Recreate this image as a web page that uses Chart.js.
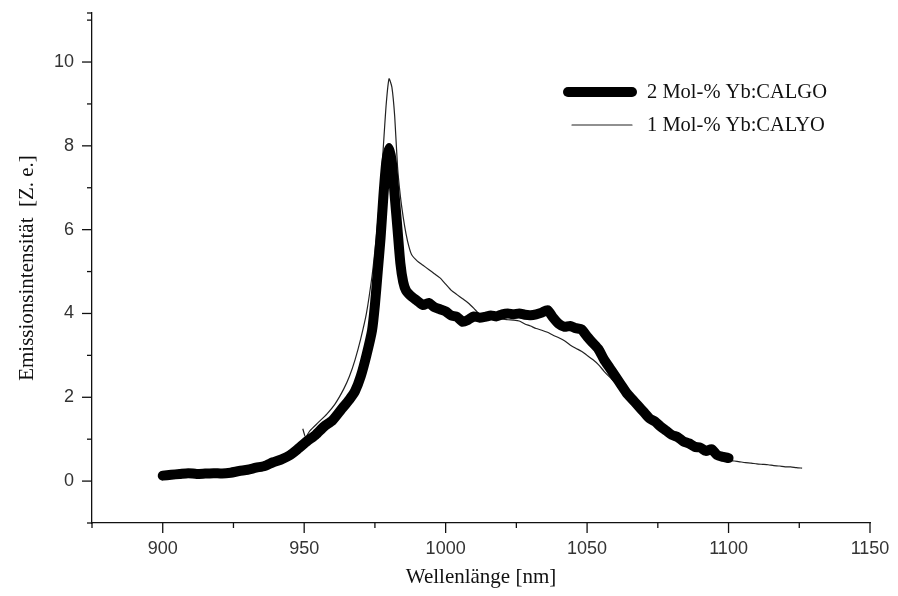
<!DOCTYPE html>
<html>
<head>
<meta charset="utf-8">
<script src="https://cdn.jsdelivr.net/npm/chart.js@4"></script>
<style>
  html, body { margin: 0; padding: 0; background: #fff; }
  canvas { display: block; }
</style>
</head>
<body>
<canvas id="spektrum" width="898" height="596"></canvas>
<script>
// Emission spectra, wavelength in nm, intensity in arbitrary units
const calgoNm = [900, 903, 906, 909, 912, 915, 918, 921, 924, 927, 930, 933, 936, 939, 942, 945, 948, 951, 954, 957,
  960, 963, 966, 968, 970, 972, 974, 975, 976, 977, 978, 979, 980, 981, 982, 983, 984, 985, 986, 988,
  990, 992, 994, 996, 998, 1000, 1002, 1004, 1006, 1008, 1010, 1012, 1014, 1016, 1018, 1020, 1022, 1024, 1026, 1028,
  1030, 1032, 1034, 1036, 1038, 1040, 1042, 1044, 1046, 1048, 1050, 1052, 1054, 1056, 1058, 1060, 1062, 1064, 1066, 1068,
  1070, 1072, 1074, 1076, 1078, 1080, 1082, 1084, 1086, 1088, 1090, 1092, 1094, 1096, 1098, 1100];
const calgoInt = [0.13, 0.15, 0.17, 0.19, 0.17, 0.18, 0.19, 0.18, 0.2, 0.24, 0.27, 0.32, 0.36, 0.45, 0.52, 0.62, 0.78, 0.95, 1.1, 1.3,
  1.45, 1.7, 1.95, 2.15, 2.5, 3.0, 3.6, 4.2, 5.0, 5.8, 6.8, 7.6, 7.95, 7.6, 6.8, 6.0, 5.2, 4.75, 4.55, 4.4,
  4.3, 4.2, 4.25, 4.15, 4.1, 4.05, 3.95, 3.92, 3.8, 3.85, 3.93, 3.9, 3.92, 3.95, 3.93, 3.98, 4.0, 3.98, 4.0, 3.97,
  3.96, 3.98, 4.02, 4.08, 3.9, 3.75, 3.68, 3.7, 3.65, 3.62, 3.45, 3.3, 3.15, 2.9, 2.7, 2.5, 2.3, 2.1, 1.95, 1.8,
  1.65, 1.5, 1.42, 1.3, 1.2, 1.1, 1.05, 0.95, 0.9, 0.82, 0.8, 0.72, 0.76, 0.62, 0.58, 0.55];

const calyoNm = [949.5, 950.5, 952, 955, 958, 961, 964, 966, 968, 970, 972, 974, 975, 976, 977, 978, 979, 980, 981, 982,
  983, 984, 985, 986, 987, 988, 990, 992, 994, 996, 998, 1000, 1002, 1004, 1006, 1008, 1010, 1012, 1014, 1016,
  1018, 1020, 1022, 1024, 1026, 1028, 1030, 1032, 1034, 1036, 1038, 1040, 1042, 1044, 1046, 1048, 1050, 1052, 1054, 1056,
  1058, 1060, 1062, 1064, 1066, 1068, 1070, 1072, 1074, 1076, 1078, 1080, 1082, 1084, 1086, 1088, 1090, 1092, 1094, 1096,
  1098, 1100, 1102, 1104, 1106, 1108, 1110, 1112, 1114, 1116, 1118, 1120, 1122, 1124, 1126];
const calyoInt = [1.25, 1.05, 1.2, 1.4, 1.6, 1.85, 2.2, 2.5, 2.9, 3.4, 4.0, 4.9, 5.5, 6.2, 7.0, 8.0, 9.0, 9.6, 9.4, 8.7,
  7.5, 6.8, 6.3, 5.9, 5.6, 5.4, 5.25, 5.15, 5.05, 4.95, 4.85, 4.7, 4.55, 4.45, 4.35, 4.25, 4.12, 3.98, 3.92, 3.9,
  3.88, 3.87, 3.85, 3.84, 3.82, 3.75, 3.7, 3.64, 3.6, 3.55, 3.48, 3.42, 3.35, 3.25, 3.17, 3.1, 3.0, 2.9, 2.78, 2.62,
  2.48, 2.35, 2.2, 2.05, 1.9, 1.75, 1.6, 1.47, 1.38, 1.27, 1.17, 1.08, 1.0, 0.92, 0.85, 0.78, 0.72, 0.67, 0.63, 0.58,
  0.54, 0.5, 0.48, 0.46, 0.44, 0.43, 0.41, 0.4, 0.39, 0.37, 0.36, 0.34, 0.34, 0.32, 0.31];

const seriesNames = ['2 Mol-% Yb:CALGO', '1 Mol-% Yb:CALYO'];

// labelled ticks and all tick marks (minor ones unlabelled)
const xTickLabels = [900, 950, 1000, 1050, 1100, 1150];
const xTickMarks = [875, 900, 925, 950, 975, 1000, 1025, 1050, 1075, 1100, 1125, 1150];
const yTickLabels = [0, 2, 4, 6, 8, 10];
const yTickMarks = [-1, 0, 1, 2, 3, 4, 5, 6, 7, 8, 9, 10, 11];

const toPoints = (xs, ys) => xs.map((x, i) => ({ x: x, y: ys[i] }));

// hand drawn tick marks: long at labelled values, short in between
const tickMarks = {
    id: 'tickMarks',
    afterDraw(chart) {
        const ctx = chart.ctx;
        const sx = chart.scales.x, sy = chart.scales.y;
        ctx.save();
        ctx.strokeStyle = '#111';
        ctx.lineWidth = 1.3;
        xTickMarks.forEach(v => {
            const px = sx.getPixelForValue(v);
            const len = xTickLabels.includes(v) ? 10 : 5;
            ctx.beginPath();
            ctx.moveTo(px, sx.top);
            ctx.lineTo(px, sx.top + len);
            ctx.stroke();
        });
        yTickMarks.forEach(v => {
            const py = sy.getPixelForValue(v);
            const len = yTickLabels.includes(v) ? 10 : 5;
            ctx.beginPath();
            ctx.moveTo(sy.right, py);
            ctx.lineTo(sy.right - len, py);
            ctx.stroke();
        });
        // small mark at the top end of the y axis
        ctx.beginPath();
        ctx.moveTo(sy.right, sy.top);
        ctx.lineTo(sy.right - 5, sy.top);
        ctx.stroke();
        ctx.restore();
    }
};

// legend inside the plot, upper right
const innerLegend = {
    id: 'innerLegend',
    afterDatasetsDraw(chart) {
        const ctx = chart.ctx;
        const rows = [{ y: 92, x0: 568 }, { y: 125, x0: 572 }];
        ctx.save();
        ctx.font = '20.5px "Liberation Serif", "Times New Roman", serif';
        ctx.textBaseline = 'middle';
        ctx.fillStyle = '#111';
        chart.data.datasets.forEach((ds, i) => {
            ctx.strokeStyle = ds.borderColor;
            ctx.lineWidth = ds.borderWidth;
            ctx.lineCap = 'round';
            ctx.beginPath();
            ctx.moveTo(rows[i].x0, rows[i].y);
            ctx.lineTo(632, rows[i].y);
            ctx.stroke();
            ctx.fillText(ds.label, 647, rows[i].y + 1);
        });
        ctx.restore();
    }
};

const chart = new Chart(document.getElementById('spektrum'), {
    type: 'line',
    data: {
        datasets: [
            {
                label: seriesNames[0],
                data: toPoints(calgoNm, calgoInt),
                borderColor: '#000',
                borderWidth: 10,
                borderJoinStyle: 'round',
                borderCapStyle: 'round',
                pointRadius: 0,
                tension: 0.2
            },
            {
                label: seriesNames[1],
                data: toPoints(calyoNm, calyoInt),
                borderColor: '#222',
                borderWidth: 1.2,
                pointRadius: 0,
                tension: 0.2
            }
        ]
    },
    options: {
        responsive: false,
        animation: false,
        layout: { padding: { top: 13, right: 28, left: 0, bottom: 0 } },
        plugins: {
            legend: { display: false },
            tooltip: { enabled: false }
        },
        scales: {
            x: {
                type: 'linear',
                min: 875,
                max: 1150,
                afterFit: s => {
                    s.height = 73;
                    s.paddingLeft = 0;
                    s.paddingRight = 0;
                },
                afterBuildTicks: s => { s.ticks = xTickLabels.map(v => ({ value: v })); },
                grid: { display: false, drawTicks: false },
                border: { display: true, color: '#111', width: 1.3 },
                ticks: {
                    padding: 15,
                    color: '#333',
                    maxRotation: 0,
                    callback: v => String(v),
                    font: { family: '"Liberation Sans", Arial, sans-serif', size: 18 }
                },
                title: {
                    display: true,
                    text: 'Wellenlänge [nm]',
                    color: '#111',
                    padding: { top: 0, bottom: 6 },
                    font: { family: '"Liberation Serif", "Times New Roman", serif', size: 21 }
                }
            },
            y: {
                min: -1,
                max: 11.17,
                afterFit: s => {
                    s.width = 92;
                    s.paddingTop = 0;
                    s.paddingBottom = 0;
                },
                afterBuildTicks: s => { s.ticks = yTickLabels.map(v => ({ value: v })); },
                grid: { display: false, drawTicks: false },
                border: { display: true, color: '#111', width: 1.3 },
                ticks: {
                    padding: 18,
                    color: '#333',
                    callback: v => String(v),
                    font: { family: '"Liberation Sans", Arial, sans-serif', size: 18 }
                },
                title: {
                    display: true,
                    text: 'Emissionsintensität  [Z. e.]',
                    color: '#111',
                    padding: { top: 15, bottom: 0 },
                    font: { family: '"Liberation Serif", "Times New Roman", serif', size: 21 }
                }
            }
        }
    },
    plugins: [tickMarks, innerLegend]
});
</script>
</body>
</html>
